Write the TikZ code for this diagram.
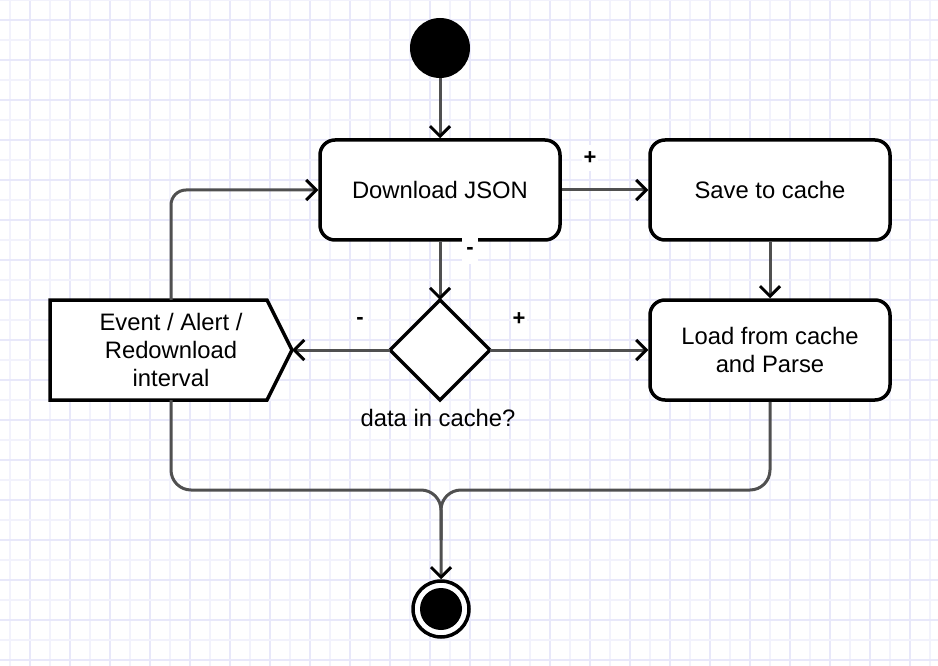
\documentclass[tikz,border=0pt]{standalone}
\usepackage{fontspec}
\setmainfont{Liberation Sans}
\usetikzlibrary{arrows.meta}
\definecolor{gridA}{RGB}{232,232,250}
\definecolor{gridB}{RGB}{242,242,252}
\definecolor{conn}{RGB}{80,80,80}
\begin{document}
\begin{tikzpicture}[x=1pt,y=-1pt,
  box/.style={draw=black,line width=3.5pt,rounded corners=15pt,fill=white,
    minimum width=240pt,minimum height=100pt,align=center,
    font=\fontsize{23.8}{28}\selectfont},
  plain/.style={align=center,font=\fontsize{23.8}{28}\selectfont,inner sep=0pt},
  lbl/.style={font=\fontsize{22}{24}\selectfont\bfseries,fill=white,inner sep=0pt,
    minimum width=16pt,minimum height=26pt},
  conn/.style={draw=conn,line width=3pt,
    -{Straight Barb[length=10pt,width=20pt,line width=3pt,color=black]}},
  connplain/.style={draw=conn,line width=3pt}]
\useasboundingbox (0,0) rectangle (938,666);
\fill[white] (0,0) rectangle (938,666);
% grid
\foreach \x in {10,50,...,930} \draw[gridB,line width=2pt] (\x,0) -- (\x,666);
\foreach \x in {30,70,...,930} \draw[gridA,line width=2pt] (\x,0) -- (\x,666);
\foreach \y in {0,40,...,660} \draw[gridB,line width=2pt] (0,\y) -- (938,\y);
\foreach \y in {20,60,...,660} \draw[gridA,line width=2pt] (0,\y) -- (938,\y);
% nodes
\node[circle,fill=black,minimum size=60pt,inner sep=0pt] (start) at (440,48) {};
\node[box] (dl) at (440,190) {Download JSON};
\node[box] (save) at (770,190) {Save to cache};
\node[box] (load) at (770,350) {Load from cache\\and Parse};
\draw[line width=3.5pt,fill=white,line join=miter] (50,300) -- (267,300) -- (292,350) -- (267,400) -- (50,400) -- cycle;
\node[plain,minimum width=242pt,minimum height=100pt] (event) at (171,350) {Event / Alert /\\Redownload\\interval};
\draw[line width=3.5pt,fill=white] (440,300) -- (490,350) -- (440,400) -- (390,350) -- cycle;
\coordinate (dtop) at (440,300);
\coordinate (dleft) at (390,350);
\coordinate (dright) at (490,350);
\node[plain] (dq) at (438,418) {data in cache?};
\node[circle,draw=black,line width=3.5pt,minimum size=56pt,inner sep=0pt,fill=white] (endc) at (441,609) {};
\node[circle,fill=black,minimum size=42pt,inner sep=0pt] (endin) at (441,609) {};
% connectors
\draw[conn] (start) -- (dl);
\draw[conn] (dl) -- (save);
\draw[conn] (dl) -- (dtop);
\draw[conn] (save) -- (load);
\draw[conn] (dright) -- (load.west);
\draw[conn] (dleft) -- (event.east);
\draw[conn,rounded corners=15pt] (event.north) -- (171,190) -- (dl.west);
\draw[connplain,rounded corners=20pt] (event.south) -- (171,490) -- (441,490) -- (441,540);
\draw[conn,rounded corners=20pt] (load.south) -- (770,490) -- (441,490) -- (endc.north);
% labels
\node[lbl] (lp1) at (590,158) {+};
\node[lbl] (lm1) at (470,251) {-};
\node[lbl] (lm2) at (360,321) {-};
\node[lbl] (lp2) at (519,319) {+};
\end{tikzpicture}
\end{document}
